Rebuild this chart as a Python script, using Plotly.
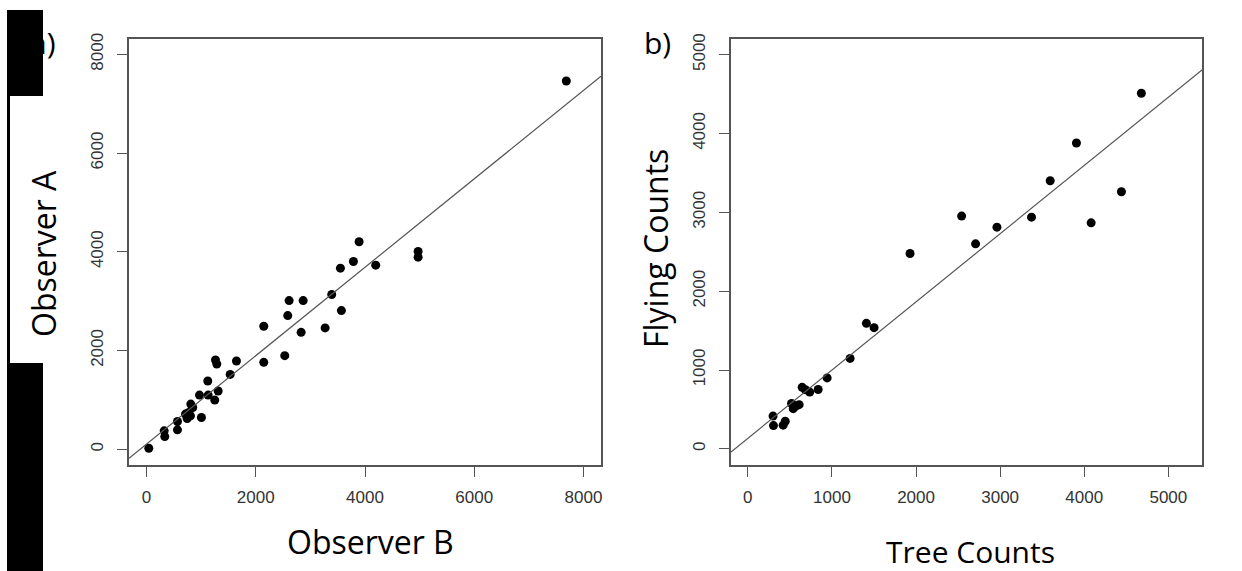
import plotly.graph_objects as go

# ---- data ----
obs_b = [42, 324, 335, 567, 567, 714, 745, 774, 805, 811, 847, 1006, 970, 1129, 1122,
         1250, 1312, 1532, 1263, 1287, 1647, 2147, 2147, 2531, 2586, 2611, 2868, 2831,
         3270, 3391, 3568, 3550, 3788, 3892, 4196, 4972, 4972, 7685]
obs_a = [20, 372, 256, 561, 392, 711, 621, 743, 676, 914, 845, 642, 1096, 1096, 1381,
         995, 1178, 1515, 1807, 1726, 1787, 2490, 1759, 1895, 2707, 3011, 3011, 2368,
         2457, 3133, 2808, 3667, 3803, 4203, 3728, 4006, 3891, 7458]
fit_a_intercept = 102
fit_a_slope = 0.896

tree_counts = [300, 305, 420, 445, 520, 540, 575, 610, 646, 685, 736, 836, 943, 1216,
               1410, 1501, 1929, 2542, 2708, 2962, 3373, 3595, 3907, 4082, 4442, 4679]
flying_counts = [415, 295, 300, 350, 575, 510, 545, 560, 780, 750, 720, 753, 900, 1147,
                 1592, 1537, 2478, 2952, 2600, 2812, 2939, 3400, 3879, 2867, 3261, 4511]
fit_b_intercept = 134
fit_b_slope = 0.865

ticks_a = [0, 2000, 4000, 6000, 8000]
ticks_b_x = [0, 1000, 2000, 3000, 4000, 5000]
ticks_b_y = [0, 1000, 2000, 3000, 4000, 5000]

range_a_x = [-320, 8320]
range_a_y = [-320, 8320]
range_b_x = [-200, 5400]
range_b_y = [-205, 5205]

W, H = 1242, 571
def px(p):
    return p / W
def py(p):
    return 1 - p / H

fig = go.Figure()

marker = dict(color="black", size=9)
fig.add_trace(go.Scatter(x=obs_b, y=obs_a, mode="markers", marker=marker,
                         xaxis="x", yaxis="y", showlegend=False))
fig.add_trace(go.Scatter(x=range_a_x,
                         y=[fit_a_intercept + fit_a_slope * v for v in range_a_x],
                         mode="lines", line=dict(color="#555", width=1.2),
                         xaxis="x", yaxis="y", showlegend=False))
fig.add_trace(go.Scatter(x=tree_counts, y=flying_counts, mode="markers", marker=marker,
                         xaxis="x2", yaxis="y2", showlegend=False))
fig.add_trace(go.Scatter(x=range_b_x,
                         y=[fit_b_intercept + fit_b_slope * v for v in range_b_x],
                         mode="lines", line=dict(color="#555", width=1.2),
                         xaxis="x2", yaxis="y2", showlegend=False))

tickfont = dict(family="Liberation Sans, Arial", size=17, color="#333")
common = dict(showgrid=False, zeroline=False, showline=True, mirror=True,
              linecolor="#555", linewidth=1.5, ticks="outside", ticklen=10,
              tickcolor="#555", tickwidth=1.3, tickfont=tickfont, automargin=False)

ydom = [py(465), py(38.5)]
fig.update_layout(
    width=W, height=H,
    margin=dict(l=0, r=0, t=0, b=0),
    paper_bgcolor="white", plot_bgcolor="white",
    xaxis=dict(domain=[px(129), px(601)], range=range_a_x, tickvals=ticks_a,
               anchor="y", ticklabelstandoff=6, **common),
    yaxis=dict(domain=ydom, range=range_a_y, tickvals=ticks_a, tickangle=-90,
               anchor="x", ticklabelstandoff=7, **common),
    xaxis2=dict(domain=[px(731), px(1202)], range=range_b_x, tickvals=ticks_b_x,
                anchor="y2", ticklabelstandoff=6, **common),
    yaxis2=dict(domain=ydom, range=range_b_y, tickvals=ticks_b_y, tickangle=-90,
                anchor="x2", ticklabelstandoff=7, **common),
)

# black frame pieces at the left edge, with a white cut-out
fig.add_shape(type="rect", xref="paper", yref="paper", x0=px(7), x1=px(43),
              y0=py(571), y1=py(10), fillcolor="black", line=dict(width=0), layer="above")
fig.add_shape(type="rect", xref="paper", yref="paper", x0=px(10), x1=px(62),
              y0=py(363), y1=py(96), fillcolor="white", line=dict(width=0), layer="above")

def tfont(size):
    return dict(family="Open Sans, Noto Sans", size=size, color="black")

fig.add_annotation(text="Observer B", x=px(370), y=py(541), xref="paper", yref="paper",
                   showarrow=False, font=tfont(32), xanchor="center", yanchor="middle")
fig.add_annotation(text="Observer A", x=px(43), y=py(254), xref="paper", yref="paper",
                   showarrow=False, font=tfont(32), textangle=-90,
                   xanchor="center", yanchor="middle")
fig.add_annotation(text="Tree Counts", x=px(970), y=py(551), xref="paper", yref="paper",
                   showarrow=False, font=tfont(30), xanchor="center", yanchor="middle")
fig.add_annotation(text="Flying Counts", x=px(655), y=py(249), xref="paper", yref="paper",
                   showarrow=False, font=tfont(32), textangle=-90,
                   xanchor="center", yanchor="middle")
fig.add_annotation(text="b)", x=px(657), y=py(42), xref="paper", yref="paper",
                   showarrow=False, font=tfont(30), xanchor="center", yanchor="middle")
fig.add_annotation(text="a)", x=px(58), y=py(42), xref="paper", yref="paper",
                   showarrow=False, font=tfont(30), xanchor="right", yanchor="middle")

fig.write_html("out.html")
